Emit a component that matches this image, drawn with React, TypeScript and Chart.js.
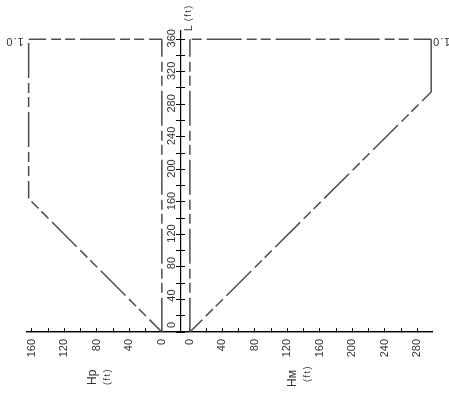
import React, { useEffect, useRef } from 'react';
import { Chart, registerables } from 'chart.js';

Chart.register(...registerables);

// Tick values (labels every 40 ft, marks every 20 ft)
const HP_TICKS = [0, 20, 40, 60, 80, 100, 120, 140, 160];
const HM_TICKS = [0, 20, 40, 60, 80, 100, 120, 140, 160, 180, 200, 220, 240, 260, 280];
const L_TICKS = [0, 20, 40, 60, 80, 100, 120, 140, 160, 180, 200, 220, 240, 260, 280, 300, 320, 340, 360];
const LABEL_STEP = 40;

// Hp diagram outline: Hp (ft) vs L (ft)
const HP_VALUES = [0, 164, 164, 0, 0];
const HP_L = [0, 164, 360, 360, 0];

// HM diagram outline: HM (ft) vs L (ft)
const HM_VALUES = [0, 297, 297, 0, 0];
const HM_L = [0, 295, 360, 360, 0];

const FONT = 'Liberation Sans, DejaVu Sans, sans-serif';
const LINE_COLOR = '#4d4d4d';
const DASH = [35, 5, 10, 4, 10, 5];
// per-edge line style: dashed (true) or continuous (false)
const HP_EDGE_DASHED = [true, true, true, true];
const HM_EDGE_DASHED = [true, false, true, true];

const labelCb = (v: any) => (Number(v) % LABEL_STEP === 0 ? String(v) : '');
const labelCbY = (v: any) => (Number(v) % LABEL_STEP === 0 ? [String(v), ''] : '');

// one dataset per outline edge so each edge starts its own dash pattern
const edgeDatasets = (label: string, hs: number[], ls: number[], dashed: boolean[], xAxisID: string) =>
  hs.slice(0, -1).map((h, i) => ({
    label: `${label} ${i}`,
    data: [
      { x: h, y: ls[i] },
      { x: hs[i + 1], y: ls[i + 1] },
    ],
    xAxisID,
    yAxisID: 'y',
    showLine: true,
    borderColor: LINE_COLOR,
    borderWidth: 1.5,
    borderDash: dashed[i] ? DASH : [],
    borderDashOffset: 17.5,
    pointRadius: 0,
    fill: false,
  }));

const textPlugin = {
  id: 'diagramTexts',
  afterDraw(chart: any) {
    const ctx = chart.ctx as CanvasRenderingContext2D;
    const xHp = chart.scales.xHp;
    const xHm = chart.scales.xHm;
    const y = chart.scales.y;
    const put = (text: string, x: number, yy: number, angle: number, size: number, align: CanvasTextAlign, spacing = 0) => {
      ctx.save();
      ctx.translate(x, yy);
      ctx.rotate(angle);
      ctx.font = `${size}px ${FONT}`;
      (ctx as any).letterSpacing = `${spacing}px`;
      ctx.fillStyle = '#333';
      ctx.textAlign = align;
      ctx.textBaseline = 'middle';
      ctx.fillText(text, 0, 0);
      ctx.restore();
    };
    const up = -Math.PI / 2;
    const base = y.getPixelForValue(0);
    // Hp title
    put('Hp', xHp.getPixelForValue(85), base + 53, up, 12, 'left');
    put('(ft)', xHp.getPixelForValue(85) + 15, base + 53, up, 9, 'left', 1.5);
    // HM title
    put('Hᴍ', xHm.getPixelForValue(127), base + 55, up, 12, 'left');
    put('(ft)', xHm.getPixelForValue(127) + 14, base + 50, up, 9, 'left', 1.5);
    // L title
    const lx = xHm.getPixelForValue(-11.5);
    put('L', lx + 8, y.getPixelForValue(360) - 8, up, 11, 'left');
    put('(ft)', lx + 8, y.getPixelForValue(360) - 18, up, 9, 'left', 1.5);
    // 1.0 markers (upside down)
    const top = y.getPixelForValue(360) + 2;
    put('1.0', xHp.getPixelForValue(HP_VALUES[1]) - 14, top, Math.PI, 11, 'center', 1);
    put('1.0', xHm.getPixelForValue(HM_VALUES[1]) + 10, top, Math.PI, 11, 'center', 1);
  },
};

export default function App() {
  const ref = useRef<HTMLCanvasElement>(null);
  useEffect(() => {
    document.body.style.margin = '0';
    const tickFont = { family: FONT, size: 11 };
    const xAxisBase = (ticks: number[]) => ({
      type: 'linear' as const,
      axis: 'x' as const,
      position: { y: 0 },
      afterBuildTicks: (s: any) => {
        s.ticks = ticks.map((value) => ({ value }));
      },
      grid: { drawOnChartArea: false, tickLength: -4, color: '#000', tickColor: '#000', tickWidth: 1 },
      border: { color: '#000', width: 1.2 },
      ticks: {
        minRotation: 90,
        maxRotation: 90,
        autoSkip: false,
        padding: 11,
        color: '#333',
        font: tickFont,
        callback: labelCb,
      },
    });
    const chart = new Chart(ref.current!, {
      type: 'scatter',
      data: {
        datasets: [
          ...edgeDatasets('Hp', HP_VALUES, HP_L, HP_EDGE_DASHED, 'xHp'),
          ...edgeDatasets('HM', HM_VALUES, HM_L, HM_EDGE_DASHED, 'xHm'),
        ],
      },
      options: {
        animation: false,
        responsive: false,
        events: [],
        layout: { padding: { left: 27, right: 17, top: 31, bottom: 61 } },
        plugins: { legend: { display: false }, tooltip: { enabled: false } },
        scales: {
          xHp: { ...xAxisBase(HP_TICKS), reverse: true, min: -332.5, max: 166 },
          xHm: { ...xAxisBase(HM_TICKS), min: -200.5, max: 298 },
          y: {
            type: 'linear',
            axis: 'y',
            position: { xHm: -11.5 },
            min: 0,
            max: 370,
            afterBuildTicks: (s: any) => {
              s.ticks = L_TICKS.map((value) => ({ value }));
            },
            grid: { drawOnChartArea: false, tickLength: 4, color: '#000', tickColor: '#000' },
            border: { color: '#000', width: 1.2 },
            ticks: {
              minRotation: 90,
              maxRotation: 90,
              autoSkip: false,
              padding: 5,
              labelOffset: -10,
              color: '#333',
              font: { family: FONT, size: 11, lineHeight: 1.65 },
              callback: labelCbY,
            },
          },
          yTick: {
            type: 'linear',
            axis: 'y',
            position: { xHm: -11.5 },
            min: 0,
            max: 370,
            afterBuildTicks: (s: any) => {
              s.ticks = L_TICKS.map((value) => ({ value }));
            },
            grid: { drawOnChartArea: false, tickLength: -4, color: '#000', tickColor: '#000' },
            border: { display: false },
            ticks: { display: false },
          },
        },
      } as any,
      plugins: [textPlugin],
    });
    return () => chart.destroy();
  }, []);
  return (
    <div style={{ width: 449, height: 393, background: '#fff' }}>
      <canvas ref={ref} width={449} height={393} style={{ display: 'block' }} />
    </div>
  );
}
